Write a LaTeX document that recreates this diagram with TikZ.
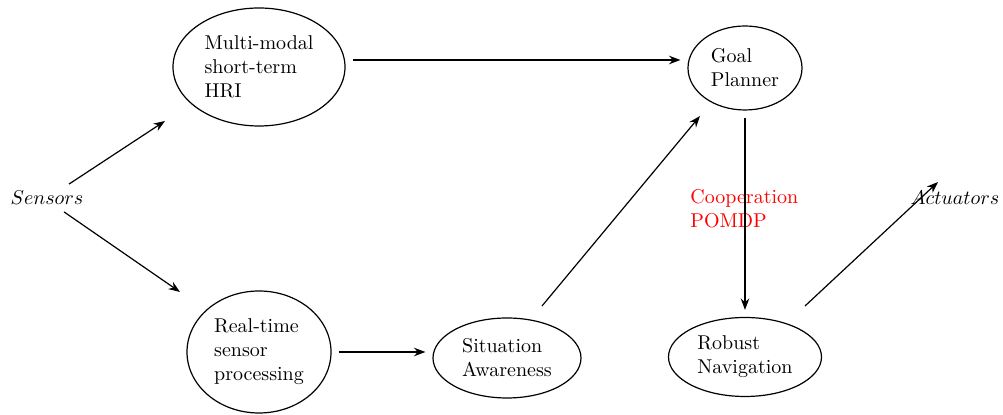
\documentclass[tikz,border=0pt]{standalone}
\usepackage{xcolor}
\usepackage{tikz}
\usetikzlibrary{positioning,arrows.meta,shapes}

\begin{document}
\begin{tikzpicture}[x=0.5pt,y=-0.5pt,
    module/.style={draw,semithick,ellipse,align=left,inner sep=0pt},
    flow/.style={-Stealth,semithick},
    gap/.style={shorten >=3.5pt,shorten <=3.5pt}]
  \useasboundingbox (0,0) rectangle (1003,415);
  % modules
  \node[module,minimum width=86pt,minimum height=59pt] (hri) at (259,67) {Multi-modal\\short-term\\HRI};
  \node[module,minimum width=57pt,minimum height=42pt] (goal) at (745,68) {Goal\\Planner};
  \node[module,minimum width=72pt,minimum height=61pt] (proc) at (259,352) {Real-time\\sensor\\processing};
  \node[module,minimum width=74pt,minimum height=40pt] (sit) at (507,358) {Situation\\Awareness};
  \node[module,minimum width=76.5pt,minimum height=39.5pt] (nav) at (745,357) {Robust\\Navigation};
  % in / out
  \node (sens) at (47,198) {$Sensors$};
  \node (act) at (955,198) {$Actuators$};
  \node[red,align=left,anchor=west,inner sep=0pt] (pomdp) at (690,209) {Cooperation\\POMDP};
  % arrows
  \draw[flow] ([xshift=11pt]sens.north) -- ([shift={(-47pt,-27pt)}]hri.center);
  \draw[flow] ([xshift=8.5pt]sens.south) -- ([shift={(-39.5pt,30pt)}]proc.center);
  \draw[flow,gap] ([yshift=3.5pt]hri.east) -- ([yshift=3.5pt]goal.west |- hri.east);
  \draw[flow,gap] (proc.east) -- (sit.west |- proc.east);
  \draw[flow] ([shift={(17.5pt,26pt)}]sit.center) -- ([shift={(-22.5pt,-24pt)}]goal.center);
  \draw[flow,gap] (goal.south) -- (nav.north);
  \draw[flow] ([shift={(30pt,25.5pt)}]nav.center) -- ([shift={(-8.5pt,8pt)}]act.center);
\end{tikzpicture}
\end{document}
